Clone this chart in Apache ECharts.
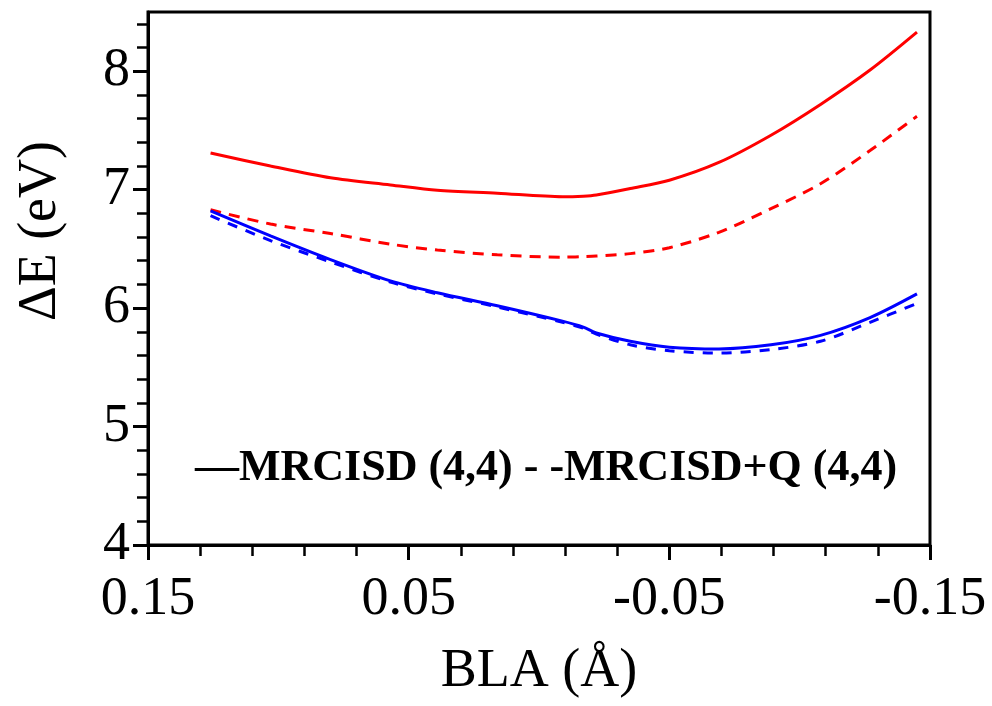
<!DOCTYPE html>
<html>
<head>
<meta charset="utf-8">
<script src="https://cdn.jsdelivr.net/npm/echarts@6/dist/echarts.min.js"></script>
<style>
html,body{margin:0;padding:0;background:#fff;}
#chart{width:992px;height:706px;}
</style>
</head>
<body>
<div id="chart"></div>
<script>
// BLA values (Å)
const blaValues = [0.126, 0.103, 0.080, 0.057, 0.039, 0.016, -0.009, -0.017, -0.022, -0.035, -0.050, -0.069, -0.089, -0.108, -0.127, -0.145];
// Red state
const redMRCISD  = [7.31, 7.20, 7.10, 7.04, 6.995, 6.97, 6.94, 6.945, 6.955, 7.01, 7.08, 7.23, 7.46, 7.72, 8.01, 8.33];
const redMRCISDQ = [6.83, 6.71, 6.63, 6.54, 6.49, 6.45, 6.43, 6.435, 6.44, 6.46, 6.51, 6.64, 6.84, 7.05, 7.33, 7.62];
// Blue state
const blueMRCISD  = [6.82, 6.61, 6.41, 6.23, 6.13, 6.02, 5.89, 5.84, 5.79, 5.72, 5.67, 5.655, 5.69, 5.77, 5.92, 6.12];
const blueMRCISDQ = [6.78, 6.57, 6.39, 6.22, 6.12, 6.01, 5.88, 5.83, 5.78, 5.69, 5.64, 5.62, 5.65, 5.72, 5.88, 6.04];

const xMajorTicks = [0.15, 0.05, -0.05, -0.15];
const xMinorTicks = [0.13, 0.11, 0.09, 0.07, 0.03, 0.01, -0.01, -0.03, -0.07, -0.09, -0.11, -0.13];
const yMajorTicks = [4, 5, 6, 7, 8];
const yMinorTicks = [4.2, 4.4, 4.6, 4.8, 5.2, 5.4, 5.6, 5.8, 6.2, 6.4, 6.6, 6.8, 7.2, 7.4, 7.6, 7.8, 8.2, 8.4];

const legendText = '—MRCISD (4,4) - -MRCISD+Q (4,4)';
const xTitle = 'BLA (Å)';
const yTitle = 'ΔE (eV)';

const FONT = "'Liberation Serif', 'Times New Roman', serif";
const pairs = (ys) => blaValues.map((x, i) => [x, ys[i]]);

const chart = echarts.init(document.getElementById('chart'), null, {renderer: 'canvas'});
chart.setOption({
  animation: false,
  backgroundColor: '#ffffff',
  title: {
    text: legendText,
    left: 190,
    top: 442,
    textStyle: {fontFamily: FONT, fontWeight: 'bold', fontSize: 44, color: '#000'}
  },
  grid: {
    left: 148, right: 62, top: 12, bottom: 161,
    show: true, borderColor: '#000', borderWidth: 3, backgroundColor: 'transparent'
  },
  xAxis: [
    {
      type: 'value', min: -0.15, max: 0.15, inverse: true, position: 'bottom',
      name: xTitle, nameLocation: 'middle', nameGap: 100,
      nameTextStyle: {fontFamily: FONT, fontSize: 54, color: '#000'},
      axisLine: {show: true, onZero: false, lineStyle: {color: '#000', width: 3}},
      axisTick: {show: true, inside: false, length: 15, customValues: xMajorTicks, lineStyle: {color: '#000', width: 3}},
      axisLabel: {show: true, margin: 28, customValues: xMajorTicks, fontFamily: FONT, fontSize: 54, color: '#000',
        formatter: (v) => v.toFixed(2)},
      splitLine: {show: false}
    },
    {
      type: 'value', min: -0.15, max: 0.15, inverse: true, position: 'bottom',
      axisLine: {show: false, onZero: false},
      axisTick: {show: true, inside: false, length: 11, customValues: xMinorTicks, lineStyle: {color: '#000', width: 2.5}},
      axisLabel: {show: false},
      splitLine: {show: false}
    }
  ],
  yAxis: [
    {
      type: 'value', min: 4, max: 8.5, position: 'left',
      name: yTitle, nameLocation: 'middle', nameGap: 80, nameRotate: 90,
      nameTextStyle: {fontFamily: FONT, fontSize: 54, color: '#000', padding: [0, 0, 0, 95]},
      axisLine: {show: true, onZero: false, lineStyle: {color: '#000', width: 3}},
      axisTick: {show: true, inside: false, length: 15, customValues: yMajorTicks, lineStyle: {color: '#000', width: 3}},
      axisLabel: {show: true, margin: 18, customValues: yMajorTicks, fontFamily: FONT, fontSize: 54, color: '#000'},
      splitLine: {show: false}
    },
    {
      type: 'value', min: 4, max: 8.5, position: 'left',
      axisLine: {show: false, onZero: false},
      axisTick: {show: true, inside: false, length: 11, customValues: yMinorTicks, lineStyle: {color: '#000', width: 2.5}},
      axisLabel: {show: false},
      splitLine: {show: false}
    }
  ],
  series: [
    {name: 'MRCISD (4,4) red', type: 'line', data: pairs(redMRCISD), smooth: 0.3, showSymbol: false,
      lineStyle: {color: '#ff0000', width: 3, type: 'solid'}, itemStyle: {color: '#ff0000'}},
    {name: 'MRCISD+Q (4,4) red', type: 'line', data: pairs(redMRCISDQ), smooth: 0.3, showSymbol: false,
      lineStyle: {color: '#ff0000', width: 3, type: [11, 8]}, itemStyle: {color: '#ff0000'}},
    {name: 'MRCISD (4,4) blue', type: 'line', data: pairs(blueMRCISD), smooth: 0.3, showSymbol: false,
      lineStyle: {color: '#0000ff', width: 3, type: 'solid'}, itemStyle: {color: '#0000ff'}},
    {name: 'MRCISD+Q (4,4) blue', type: 'line', data: pairs(blueMRCISDQ), smooth: 0.3, showSymbol: false,
      lineStyle: {color: '#0000ff', width: 3, type: [10, 9]}, itemStyle: {color: '#0000ff'}}
  ]
});
</script>
</body>
</html>
